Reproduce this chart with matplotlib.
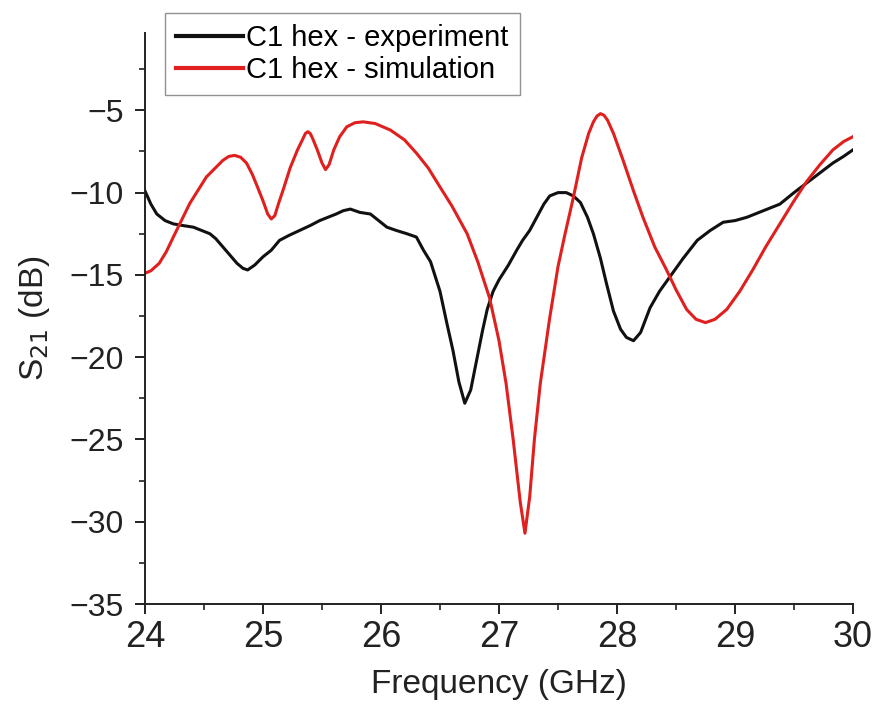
import matplotlib
matplotlib.use("Agg")
import matplotlib.pyplot as plt
from matplotlib.ticker import MultipleLocator

plt.rcParams['font.family'] = ['Liberation Sans', 'DejaVu Sans']

# measured S21 of the C1 hex sample
freq_exp = [24.00, 24.05, 24.10, 24.17, 24.24, 24.32, 24.41, 24.48, 24.55, 24.60,
            24.66, 24.72, 24.78, 24.83, 24.87, 24.93, 25.00, 25.07, 25.14, 25.22,
            25.31, 25.40, 25.48, 25.55, 25.62, 25.68, 25.74, 25.82, 25.91, 25.98,
            26.05, 26.13, 26.22, 26.30, 26.36, 26.42, 26.50, 26.56, 26.61, 26.66,
            26.71, 26.76, 26.81, 26.86, 26.90, 26.95, 27.00, 27.08, 27.15, 27.20,
            27.26, 27.32, 27.38, 27.43, 27.50, 27.57, 27.63, 27.69, 27.75, 27.80,
            27.86, 27.91, 27.97, 28.03, 28.08, 28.14, 28.20, 28.28, 28.36, 28.45,
            28.56, 28.68, 28.79, 28.90, 29.00, 29.10, 29.24, 29.38, 29.50, 29.61,
            29.72, 29.83, 29.92, 30.00]
s21_exp = [-9.9, -10.7, -11.3, -11.7, -11.9, -12.0, -12.1, -12.3, -12.5, -12.8,
           -13.3, -13.8, -14.3, -14.6, -14.7, -14.4, -13.9, -13.5, -12.9, -12.6,
           -12.3, -12.0, -11.7, -11.5, -11.3, -11.1, -11.0, -11.2, -11.3, -11.7,
           -12.1, -12.3, -12.5, -12.7, -13.5, -14.2, -16.0, -18.0, -19.6, -21.5,
           -22.8, -22.0, -20.2, -18.4, -17.1, -16.0, -15.3, -14.4, -13.5, -12.9,
           -12.3, -11.5, -10.7, -10.2, -10.0, -10.0, -10.2, -10.6, -11.5, -12.5,
           -14.0, -15.5, -17.2, -18.3, -18.8, -19.0, -18.5, -17.0, -16.0, -15.1,
           -14.0, -12.9, -12.3, -11.8, -11.7, -11.5, -11.1, -10.7, -10.0, -9.4,
           -8.8, -8.2, -7.8, -7.4]

# simulated S21
freq_sim = [24.00, 24.05, 24.12, 24.18, 24.24, 24.38, 24.52, 24.66, 24.71, 24.76,
            24.81, 24.86, 24.91, 24.95, 25.00, 25.04, 25.07, 25.10, 25.13, 25.17,
            25.23, 25.29, 25.34, 25.36, 25.38, 25.40, 25.42, 25.46, 25.50, 25.53,
            25.56, 25.60, 25.65, 25.71, 25.78, 25.85, 25.95, 26.08, 26.20, 26.30,
            26.40, 26.50, 26.60, 26.73, 26.82, 26.92, 27.00, 27.06, 27.12, 27.18,
            27.22, 27.26, 27.30, 27.35, 27.43, 27.50, 27.56, 27.63, 27.70, 27.76,
            27.80, 27.83, 27.86, 27.89, 27.92, 27.97, 28.05, 28.14, 28.22, 28.32,
            28.42, 28.50, 28.59, 28.67, 28.75, 28.83, 28.93, 29.04, 29.15, 29.26,
            29.38, 29.50, 29.61, 29.72, 29.83, 29.92, 30.00]
s21_sim = [-14.9, -14.75, -14.3, -13.6, -12.7, -10.65, -9.05, -8.04, -7.8, -7.74,
           -7.85, -8.2, -8.9, -9.6, -10.5, -11.3, -11.6, -11.4, -10.7, -9.85,
           -8.5, -7.44, -6.7, -6.4, -6.3, -6.4, -6.7, -7.4, -8.2, -8.6,
           -8.3, -7.4, -6.6, -6.0, -5.75, -5.7, -5.8, -6.2, -6.8, -7.6,
           -8.5, -9.66, -10.8, -12.5, -14.2, -16.4, -19.0, -21.6, -25.0, -28.8,
           -30.7, -28.5, -25.0, -21.6, -17.6, -14.5, -12.5, -10.3, -7.9, -6.4,
           -5.7, -5.35, -5.2, -5.3, -5.6, -6.4, -8.0, -9.9, -11.5, -13.3,
           -14.7, -15.9, -17.1, -17.7, -17.9, -17.7, -17.1, -16.0, -14.7, -13.3,
           -11.9, -10.5, -9.3, -8.3, -7.4, -6.9, -6.6]

fig = plt.figure(figsize=(8.75, 7.15), dpi=100)
ax = fig.add_axes([145 / 875, 1 - 604 / 715, 708 / 875, 571 / 715])

ax.plot(freq_exp, s21_exp, color='#111111', linewidth=2.2, label='C1 hex - experiment')
ax.plot(freq_sim, s21_sim, color='#e0201e', linewidth=2.2, label='C1 hex - simulation')

ax.set_xlim(24, 30)
ax.set_ylim(-35, -0.3)
ax.xaxis.set_major_locator(MultipleLocator(1))
ax.xaxis.set_minor_locator(MultipleLocator(0.5))
ax.yaxis.set_minor_locator(MultipleLocator(2.5))
ax.set_yticks([-35, -30, -25, -20, -15, -10, -5])
ax.set_yticklabels(['\u221235', '\u221230', '\u221225', '\u221220', '\u221215', '\u221210', '\u22125'])

for side in ['top', 'right']:
    ax.spines[side].set_visible(False)
for side in ['left', 'bottom']:
    ax.spines[side].set_linewidth(1.4)
    ax.spines[side].set_color('#222222')

ax.tick_params(which='major', direction='out', length=7.5, width=1.4, colors='#222222')
ax.tick_params(which='minor', direction='out', length=4, width=1.2, colors='#222222')
ax.tick_params(axis='x', which='major', labelsize=26, pad=4)
ax.tick_params(axis='y', which='major', labelsize=23, pad=8)

ax.set_xlabel('Frequency (GHz)', fontsize=24, color='#222222', labelpad=10)
ax.set_ylabel('S$_{21}$ (dB)', fontsize=24, color='#222222', labelpad=12)

leg = fig.legend(loc='upper left', bbox_to_anchor=(165 / 875, 1 - 13 / 715),
                 fontsize=21, frameon=True, fancybox=False, handlelength=2.3,
                 handletextpad=0.1, borderpad=0.38, labelspacing=0.14,
                 borderaxespad=0)
leg.get_frame().set_edgecolor('#777777')
leg.get_frame().set_linewidth(1.0)
for line in leg.get_lines():
    line.set_linewidth(3)

fig.savefig('out.png', dpi=100)
